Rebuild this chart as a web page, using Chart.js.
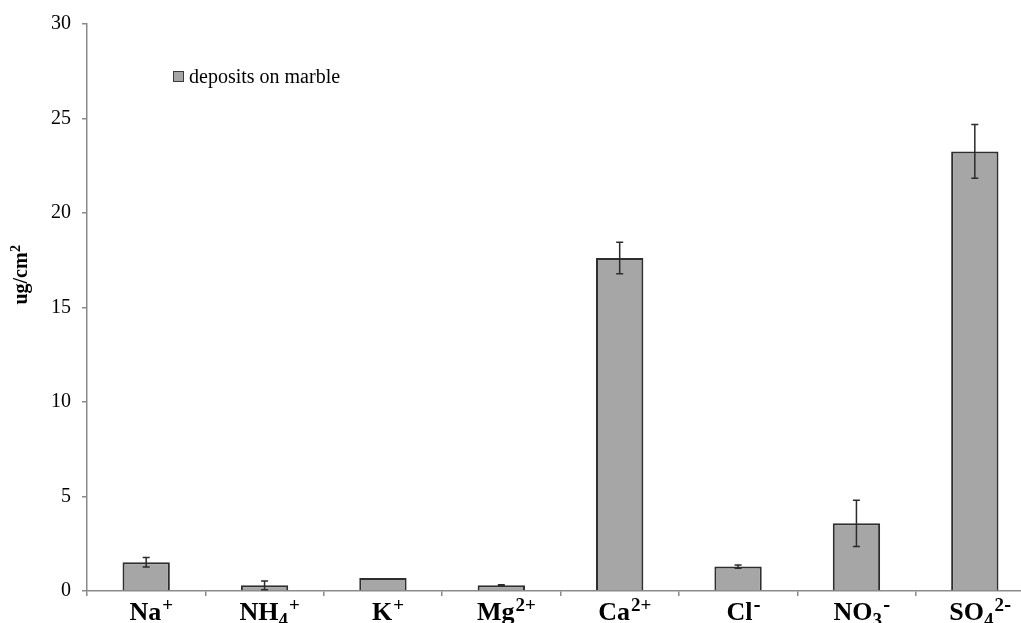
<!DOCTYPE html>
<html>
<head>
<meta charset="utf-8">
<script src="https://cdn.jsdelivr.net/npm/chart.js@4.4.1/dist/chart.umd.min.js"></script>
<style>
  html, body { margin: 0; padding: 0; background: #fff; overflow: hidden; }
  #wrap { position: relative; width: 1040px; height: 623px; }
</style>
</head>
<body>
<div id="wrap"><canvas id="c" width="1040" height="623"></canvas></div>
<script>
// Ion deposits measured on marble (ug/cm2), mean and standard deviation
const categories = ['Na⁺', 'NH₄⁺', 'K⁺', 'Mg²⁺', 'Ca²⁺', 'Cl⁻', 'NO₃⁻', 'SO₄²⁻'];
const depositValues = [1.52, 0.30, 0.69, 0.30, 17.62, 1.29, 3.58, 23.26];
const depositErrors = [0.25, 0.23, 0.00, 0.03, 0.83, 0.08, 1.22, 1.42];
const seriesLabel = 'deposits on marble';
const yTickValues = [0, 5, 10, 15, 20, 25, 30];
const yTitle = 'ug/cm';
const yTitleSup = '2';

const SERIF = '"Liberation Serif", "Times New Roman", "DejaVu Serif", serif';
const AXIS_COLOR = '#8a8a8a';

// Error bars drawn from each value ± its deviation
const errorBarPlugin = {
  id: 'errorBars',
  afterDatasetsDraw(chart) {
    const { ctx, scales: { x, y } } = chart;
    ctx.save();
    ctx.strokeStyle = '#2b2b2b';
    ctx.lineWidth = 1.5;
    depositValues.forEach((v, i) => {
      const e = depositErrors[i];
      if (!e) return;
      const cx = x.getPixelForValue(i);
      const yTop = y.getPixelForValue(v + e);
      const yBot = y.getPixelForValue(v - e);
      ctx.beginPath();
      ctx.moveTo(cx, yTop); ctx.lineTo(cx, yBot);
      ctx.moveTo(cx - 3.5, yTop); ctx.lineTo(cx + 3.5, yTop);
      ctx.moveTo(cx - 3.5, yBot); ctx.lineTo(cx + 3.5, yBot);
      ctx.stroke();
    });
    ctx.restore();
  }
};

// Category labels with raised / lowered charge and count characters
const SUP = { '⁰':'0','¹':'1','²':'2','³':'3','⁴':'4','⁵':'5','⁶':'6','⁷':'7','⁸':'8','⁹':'9','⁺':'+','⁻':'-' };
const SUB = { '₀':'0','₁':'1','₂':'2','₃':'3','₄':'4','₅':'5','₆':'6','₇':'7','₈':'8','₉':'9' };
function splitLabel(s) {
  const parts = [];
  for (const ch of s) {
    let kind = 'n', t = ch;
    if (SUP[ch] !== undefined) { kind = 'sup'; t = SUP[ch]; }
    else if (SUB[ch] !== undefined) { kind = 'sub'; t = SUB[ch]; }
    const last = parts[parts.length - 1];
    if (last && last.kind === kind) last.text += t; else parts.push({ kind, text: t });
  }
  return parts;
}
const categoryLabelPlugin = {
  id: 'categoryLabels',
  afterDraw(chart) {
    const { ctx, scales: { x } } = chart;
    const baseFont = 'bold 26px ' + SERIF;
    const smallFont = 'bold 19px ' + SERIF;
    const baseline = x.top + 29;
    ctx.save();
    ctx.fillStyle = '#000';
    ctx.textBaseline = 'alphabetic';
    ctx.textAlign = 'left';
    categories.forEach((lab, i) => {
      const parts = splitLabel(lab);
      let total = 0;
      parts.forEach(p => {
        ctx.font = p.kind === 'n' ? baseFont : smallFont;
        p.w = ctx.measureText(p.text).width + (p.kind === 'sup' ? 1 : 0);
        total += p.w;
      });
      let px = x.getPixelForValue(i) - total / 2 + 5;
      parts.forEach(p => {
        ctx.font = p.kind === 'n' ? baseFont : smallFont;
        const dy = p.kind === 'sup' ? -9 : (p.kind === 'sub' ? 6 : 0);
        let cx = px + (p.kind === 'sup' ? 1 : 0);
        for (const ch of p.text) {
          const cw = ctx.measureText(ch).width;
          if (ch === '-') {
            // minus sign as a short bar
            ctx.fillRect(cx + 1, baseline + dy - 6, cw - 1, 2);
          } else {
            ctx.fillText(ch, cx, baseline + dy);
          }
          cx += cw;
        }
        px += p.w;
      });
    });

    // Rotated axis title with superscript
    ctx.save();
    ctx.translate(22, 275);
    ctx.rotate(-Math.PI / 2);
    ctx.textBaseline = 'middle';
    ctx.textAlign = 'left';
    const tFont = 'bold 20px ' + SERIF;
    const sFont = 'bold 14px ' + SERIF;
    ctx.font = tFont;
    const w1 = ctx.measureText(yTitle).width;
    ctx.font = sFont;
    const w2 = ctx.measureText(yTitleSup).width;
    const start = -(w1 + w2) / 2;
    ctx.font = tFont;
    ctx.fillText(yTitle, start, 0);
    ctx.font = sFont;
    ctx.fillText(yTitleSup, start + w1 + 0.5, -6);
    ctx.restore();

    // Legend entry
    const ds = chart.data.datasets[0];
    ctx.fillStyle = ds.backgroundColor;
    ctx.fillRect(174, 72, 9, 9);
    ctx.strokeStyle = '#3a3a3a';
    ctx.lineWidth = 1;
    ctx.strokeRect(173.5, 71.5, 10, 10);
    ctx.fillStyle = '#000';
    ctx.font = '20px ' + SERIF;
    ctx.textBaseline = 'alphabetic';
    ctx.textAlign = 'left';
    ctx.fillText(ds.label, 189, 83);
    ctx.restore();
  }
};

new Chart(document.getElementById('c'), {
  type: 'bar',
  data: {
    labels: categories,
    datasets: [{
      label: seriesLabel,
      data: depositValues,
      backgroundColor: '#a6a6a6',
      borderColor: '#2e2e2e',
      borderWidth: 2,
      barPercentage: 0.4,
      categoryPercentage: 1.0
    }]
  },
  options: {
    responsive: false,
    animation: false,
    devicePixelRatio: 1,
    layout: { padding: { top: 24, right: 6, left: 0, bottom: 0 } },
    plugins: { legend: { display: false }, tooltip: { enabled: false } },
    scales: {
      x: {
        ticks: { display: false },
        grid: { offset: true, drawOnChartArea: false, drawTicks: true, tickLength: 5, color: AXIS_COLOR, lineWidth: 1.5 },
        border: { display: true, color: AXIS_COLOR, width: 1.5 },
        afterFit(scale) { scale.height = 32; }
      },
      y: {
        min: 0,
        max: 30,
        afterBuildTicks(scale) { scale.ticks = yTickValues.map(v => ({ value: v })); },
        ticks: { color: '#000', font: { family: SERIF, size: 20 }, padding: 11 },
        grid: { drawOnChartArea: false, drawTicks: true, tickLength: 5, color: AXIS_COLOR, lineWidth: 1.5 },
        border: { display: true, color: AXIS_COLOR, width: 1.5 },
        afterFit(scale) { scale.width = 87; }
      }
    }
  },
  plugins: [errorBarPlugin, categoryLabelPlugin]
});
</script>
</body>
</html>
